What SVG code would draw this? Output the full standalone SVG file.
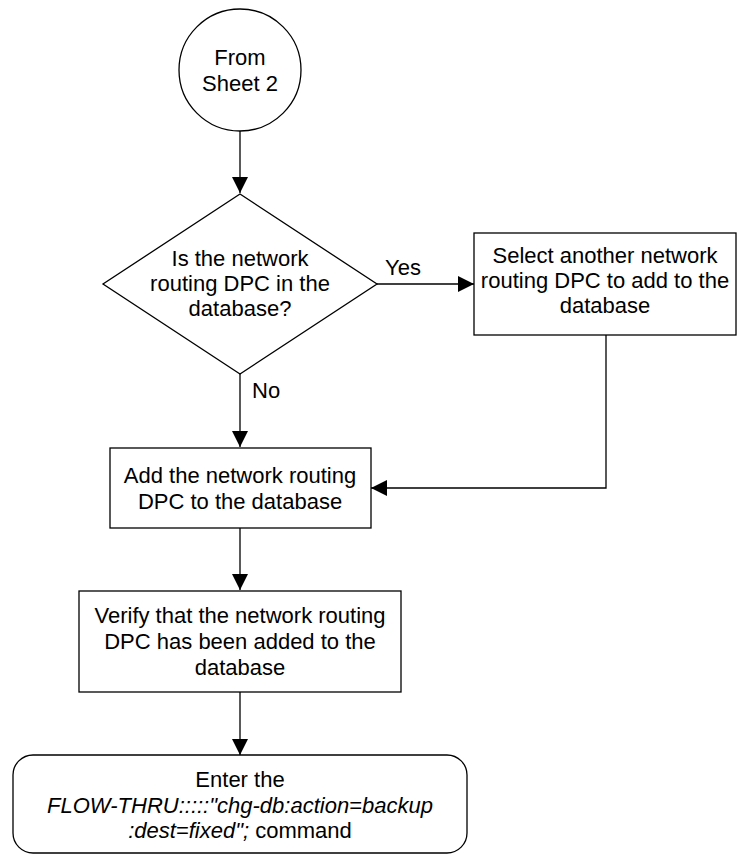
<svg xmlns="http://www.w3.org/2000/svg" width="737" height="855" viewBox="0 0 737 855">
<defs>
<marker id="arr" markerWidth="16" markerHeight="16" refX="16" refY="8" orient="auto" markerUnits="userSpaceOnUse">
<path d="M0,0 L16,8 L0,16 Z" fill="#000"/>
</marker>
<style>
.s{fill:#fff;stroke:#000;stroke-width:1.3}
.c{fill:none;stroke:#000;stroke-width:1.3;marker-end:url(#arr)}
text{font-family:"Liberation Sans",Arial,sans-serif;font-size:22px;fill:#000}
.m{text-anchor:middle}
.i{font-style:italic}
</style>
</defs>
<rect width="737" height="855" fill="#fff"/>
<g id="connectors">
<path class="c" d="M240,131 L240,193"/>
<path class="c" d="M377,284 L474,284"/>
<path class="c" d="M240,374 L240,447"/>
<path class="c" d="M606,335 L606,488 L371,488"/>
<path class="c" d="M240,528 L240,590"/>
<path class="c" d="M240,692 L240,755"/>
<text x="385" y="275">Yes</text>
<text x="252" y="398">No</text>
</g>
<g id="start">
<circle class="s" cx="240" cy="70" r="61"/>
<text class="m" x="240" y="65">From</text>
<text class="m" x="240" y="91">Sheet 2</text>
</g>
<g id="decision">
<path class="s" d="M240,194 L377,284 L240,374 L103,284 Z"/>
<text class="m" x="240" y="266">Is the network</text>
<text class="m" x="240" y="291">routing DPC in the</text>
<text class="m" x="240" y="316">database?</text>
</g>
<g id="select">
<rect class="s" x="474" y="233" width="262" height="102"/>
<text class="m" x="605" y="263">Select another network</text>
<text class="m" x="605" y="288">routing DPC to add to the</text>
<text class="m" x="605" y="313">database</text>
</g>
<g id="add">
<rect class="s" x="110" y="448" width="261" height="80"/>
<text class="m" x="240" y="483">Add the network routing</text>
<text class="m" x="240" y="509">DPC to the database</text>
</g>
<g id="verify">
<rect class="s" x="79" y="591" width="322" height="101"/>
<text class="m" x="240" y="623">Verify that the network routing</text>
<text class="m" x="240" y="649">DPC has been added to the</text>
<text class="m" x="240" y="675">database</text>
</g>
<g id="enter">
<rect class="s" x="13" y="755" width="454" height="98" rx="20" ry="20"/>
<text class="m" x="240" y="787">Enter the</text>
<text class="m i" x="240" y="813">FLOW-THRU:::::"chg-db:action=backup</text>
<text class="m" x="240" y="838"><tspan class="i">:dest=fixed";</tspan> command</text>
</g>
</svg>
